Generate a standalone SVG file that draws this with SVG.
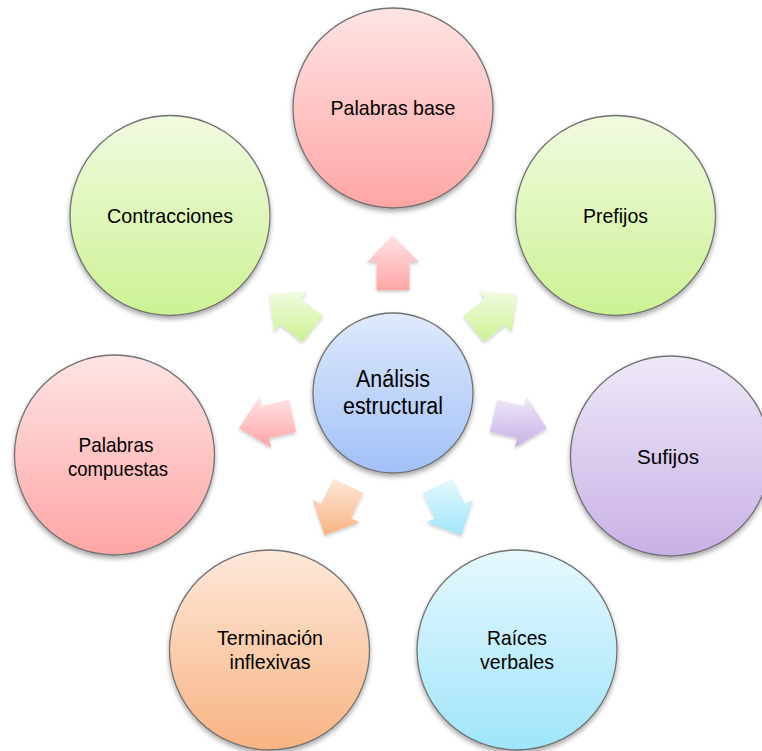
<svg xmlns="http://www.w3.org/2000/svg" width="762" height="751" viewBox="0 0 762 751">
<style>
.node circle{stroke:#727272;stroke-width:1.3;filter:url(#sh)}
.lbl{font-family:"Liberation Sans",Arial,sans-serif;font-size:21px;fill:#000;text-anchor:middle}
.big{font-size:23.5px}
.arrow polygon{stroke:none;filter:url(#sha)}
</style>
<defs>
<filter id="sh" x="-20%" y="-20%" width="140%" height="145%">
<feGaussianBlur in="SourceAlpha" stdDeviation="2.5"/>
<feOffset dx="0" dy="3" result="b"/>
<feComponentTransfer><feFuncA type="linear" slope="0.35"/></feComponentTransfer>
<feMerge><feMergeNode/><feMergeNode in="SourceGraphic"/></feMerge>
</filter>
<filter id="sha" x="-30%" y="-30%" width="160%" height="160%">
<feGaussianBlur in="SourceAlpha" stdDeviation="1.5"/>
<feOffset dx="0" dy="2" result="b"/>
<feComponentTransfer><feFuncA type="linear" slope="0.2"/></feComponentTransfer>
<feMerge><feMergeNode/><feMergeNode in="SourceGraphic"/></feMerge>
</filter>
<linearGradient id="gPink" x1="0" y1="0" x2="0" y2="1"><stop offset="0" stop-color="#ffe4e4"/><stop offset="1" stop-color="#ffa5a5"/></linearGradient>
<linearGradient id="gGreen" x1="0" y1="0" x2="0" y2="1"><stop offset="0" stop-color="#f1fbe0"/><stop offset="1" stop-color="#ccf293"/></linearGradient>
<linearGradient id="gPurple" x1="0" y1="0" x2="0" y2="1"><stop offset="0" stop-color="#eee8f7"/><stop offset="1" stop-color="#c8b1e6"/></linearGradient>
<linearGradient id="gCyan" x1="0" y1="0" x2="0" y2="1"><stop offset="0" stop-color="#e6f8fd"/><stop offset="1" stop-color="#9fe5fa"/></linearGradient>
<linearGradient id="gOrange" x1="0" y1="0" x2="0" y2="1"><stop offset="0" stop-color="#fee8d9"/><stop offset="1" stop-color="#f8b382"/></linearGradient>
<linearGradient id="gBlue" x1="0" y1="0" x2="0" y2="1"><stop offset="0" stop-color="#dfeafc"/><stop offset="1" stop-color="#a1c0f7"/></linearGradient>
</defs>
<rect width="762" height="751" fill="#fff"/>

<g id="connectors" class="arrow">
<polygon fill="url(#gPink)" points="409.5,290 409.5,262 419,262 393,235 367,262 376.5,262 376.5,290"/>
<polygon fill="url(#gGreen)" points="483.82,341.68 505.71,324.22 511.63,331.65 516.53,294.49 479.21,290.99 485.13,298.42 463.24,315.88"/>
<polygon fill="url(#gPurple)" points="489.75,432.01 517.05,438.24 514.93,447.5 547.04,428.16 526.51,396.8 524.39,406.06 497.09,399.83"/>
<polygon fill="url(#gCyan)" points="422.82,492.96 434.97,518.19 426.41,522.31 461.55,535.35 473.27,499.75 464.71,503.87 452.56,478.64"/>
<polygon fill="url(#gOrange)" points="333.44,478.64 321.29,503.87 312.73,499.75 324.45,535.35 359.59,522.31 351.03,518.19 363.18,492.96"/>
<polygon fill="url(#gPink)" points="288.91,399.83 261.61,406.06 259.49,396.8 238.96,428.16 271.07,447.5 268.95,438.24 296.25,432.01"/>
<polygon fill="url(#gGreen)" points="322.76,315.88 300.87,298.42 306.79,290.99 269.47,294.49 274.37,331.65 280.29,324.22 302.18,341.68"/>
</g>

<g id="center" class="node">
<circle cx="393" cy="393" r="80" fill="url(#gBlue)"/>
<text class="lbl big" x="393" y="387" textLength="74" lengthAdjust="spacingAndGlyphs">Análisis</text>
<text class="lbl big" x="393" y="414" textLength="100" lengthAdjust="spacingAndGlyphs">estructural</text>
</g>

<g id="palabras-base" class="node">
<circle cx="393" cy="108" r="100" fill="url(#gPink)"/>
<text class="lbl" x="393" y="115" textLength="125" lengthAdjust="spacingAndGlyphs">Palabras base</text>
</g>

<g id="prefijos" class="node">
<circle cx="615.5" cy="215.5" r="100" fill="url(#gGreen)"/>
<text class="lbl" x="615.5" y="223" textLength="65" lengthAdjust="spacingAndGlyphs">Prefijos</text>
</g>

<g id="sufijos" class="node">
<circle cx="670.5" cy="456" r="100" fill="url(#gPurple)"/>
<text class="lbl" x="668" y="464" textLength="62" lengthAdjust="spacingAndGlyphs">Sufijos</text>
</g>

<g id="raices-verbales" class="node">
<circle cx="517" cy="650" r="100" fill="url(#gCyan)"/>
<text class="lbl" x="517" y="645" textLength="60" lengthAdjust="spacingAndGlyphs">Raíces</text>
<text class="lbl" x="517" y="669" textLength="74" lengthAdjust="spacingAndGlyphs">verbales</text>
</g>

<g id="terminacion-inflexivas" class="node">
<circle cx="269.5" cy="650" r="100" fill="url(#gOrange)"/>
<text class="lbl" x="270" y="645" textLength="106" lengthAdjust="spacingAndGlyphs">Terminación</text>
<text class="lbl" x="270" y="669" textLength="81" lengthAdjust="spacingAndGlyphs">inflexivas</text>
</g>

<g id="palabras-compuestas" class="node">
<circle cx="114.5" cy="455" r="100" fill="url(#gPink)"/>
<text class="lbl" x="116" y="452" textLength="75" lengthAdjust="spacingAndGlyphs">Palabras</text>
<text class="lbl" x="118" y="476" textLength="100" lengthAdjust="spacingAndGlyphs">compuestas</text>
</g>

<g id="contracciones" class="node">
<circle cx="170" cy="215.5" r="100" fill="url(#gGreen)"/>
<text class="lbl" x="170" y="223" textLength="126" lengthAdjust="spacingAndGlyphs">Contracciones</text>
</g>
</svg>
